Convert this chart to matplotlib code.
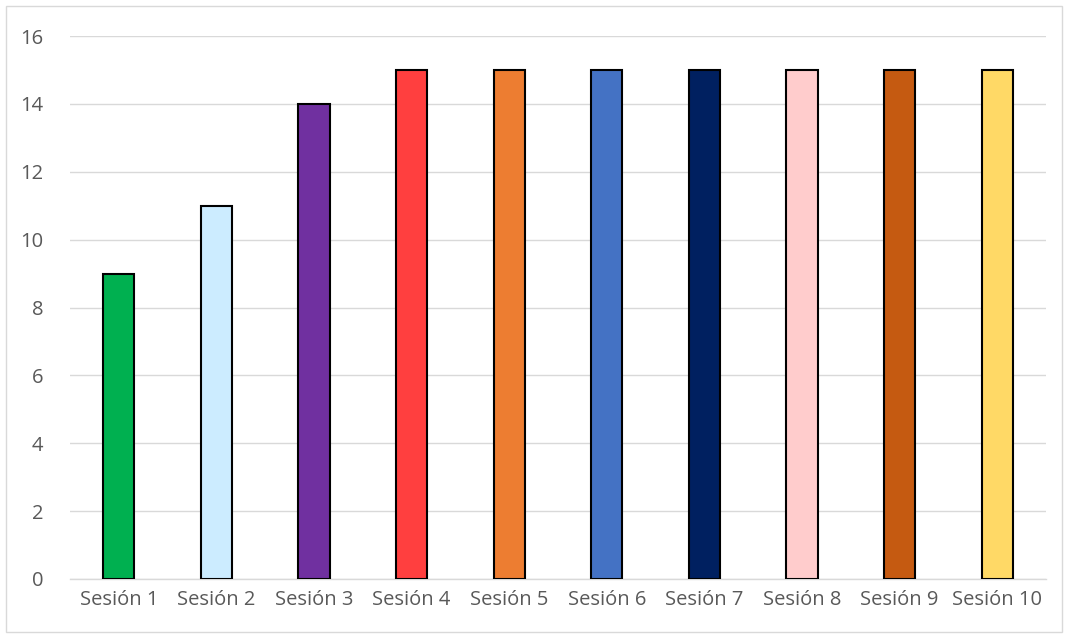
import matplotlib
matplotlib.use("Agg")
import matplotlib.pyplot as plt
from matplotlib.patches import Rectangle

sessions = ["Sesión 1", "Sesión 2", "Sesión 3", "Sesión 4", "Sesión 5",
            "Sesión 6", "Sesión 7", "Sesión 8", "Sesión 9", "Sesión 10"]
values = [9, 11, 14, 15, 15, 15, 15, 15, 15, 15]
colors = ["#00B050", "#CCECFF", "#7030A0", "#FF3F3F", "#ED7D31",
          "#4472C4", "#002060", "#FFCCCC", "#C55A11", "#FFD966"]
yticks = [0, 2, 4, 6, 8, 10, 12, 14, 16]

plt.rcParams['font.family'] = ['Open Sans', 'DejaVu Sans']

fig = plt.figure(figsize=(10.65, 6.37), dpi=100)
ax = fig.add_axes([70 / 1065, 1 - 579 / 637, 976 / 1065, 543 / 637])

x = list(range(len(sessions)))
ax.bar(x, values, width=0.32, color=colors, edgecolor="black", linewidth=1.5, zorder=3)

ax.set_xlim(-0.5, len(sessions) - 0.5)
ax.set_ylim(0, 16)
ax.set_yticks(yticks)
ax.set_xticks(x)
ax.set_xticklabels(sessions)
ax.grid(axis="y", color="#D9D9D9", linewidth=1, zorder=0)
for side in ["top", "right", "left"]:
    ax.spines[side].set_visible(False)
ax.spines["bottom"].set_color("#D9D9D9")
ax.spines["bottom"].set_linewidth(1)
ax.tick_params(axis="both", length=0, labelsize=14.5, colors="#595959")
ax.tick_params(axis="x", pad=8)
ax.tick_params(axis="y", pad=19)

# light outer frame around the chart
fig.patches.append(Rectangle((6 / 1065, 5 / 637), 1056 / 1065, 626 / 637,
                             transform=fig.transFigure, fill=False,
                             edgecolor="#D9D9D9", linewidth=1))

fig.savefig("out.png", dpi=100)
